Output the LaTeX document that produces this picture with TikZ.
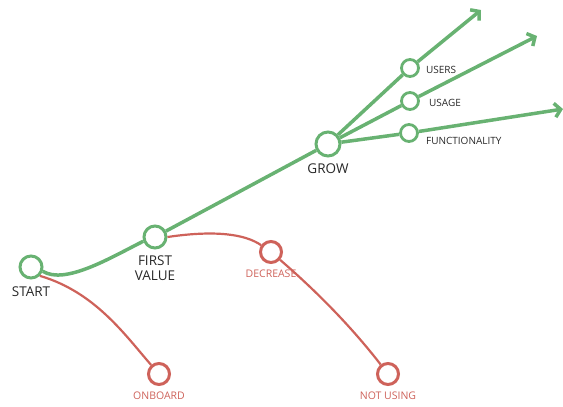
\documentclass[tikz,border=0pt]{standalone}
\usepackage{fontspec}
\setmainfont{Open Sans}
\usetikzlibrary{arrows.meta}
\definecolor{growgreen}{RGB}{104,178,114}
\definecolor{lossred}{RGB}{206,98,90}
\definecolor{labelgray}{RGB}{40,40,40}

\begin{document}
\begin{tikzpicture}[x=1pt,y=-1pt]
            \tikzstyle{stage} = [circle, draw=growgreen, line width=3pt, fill=white, minimum size=22pt, inner sep=0pt]
            \tikzstyle{substage} = [stage, minimum size=17pt, line width=2.8pt]
            \tikzstyle{drop} = [stage, draw=lossred, minimum size=21pt]
            \tikzstyle{biglabel} = [text=labelgray, font=\fontsize{13.5}{15.5}\selectfont, align=center, inner sep=1pt]
            \tikzstyle{smalllabel} = [text=labelgray, font=\fontsize{10}{12}\selectfont, inner sep=1pt]
            \tikzstyle{droplabel} = [text=lossred, font=\fontsize{10.5}{12}\selectfont, inner sep=1pt]
            \tikzstyle{path} = [growgreen, line width=3.5pt]
            \tikzstyle{loss} = [lossred, line width=2.2pt]
            \tikzstyle{branch} = [path, -{Straight Barb[length=6pt, width=14pt]}]
            \useasboundingbox (0,0) rectangle (563,407);
            % stages
            \node[stage, label={[biglabel, label distance=6pt]below:START}] (start) at (31,267) {};
            \node[stage, label={[biglabel, label distance=5pt]below:FIRST\\VALUE}] (first) at (155,237) {};
            \node[stage, minimum size=24pt, label={[biglabel, label distance=5pt]below:GROW}] (grow) at (328,144) {};
            \node[substage, label={[smalllabel, anchor=west, xshift=5pt, yshift=-2pt]right:USERS}] (users) at (410,68) {};
            \node[substage, label={[smalllabel, anchor=west, xshift=8pt, yshift=-2pt]right:USAGE}] (usage) at (410,101) {};
            \node[substage, label={[smalllabel, anchor=west, xshift=6pt, yshift=-8pt]right:FUNCTIONALITY}] (func) at (409,133) {};
            \node[drop, label={[droplabel, label distance=5pt]below:DECREASE}] (decrease) at (271,252) {};
            \node[drop, label={[droplabel, label distance=5pt]below:ONBOARD}] (onboard) at (159,374) {};
            \node[drop, label={[droplabel, label distance=5pt]below:NOT USING}] (notusing) at (388,374) {};
            \coordinate (usersTip) at (481,10);
            \coordinate (usageTip) at (537,36);
            \coordinate (funcTip) at (563,109);
            % losses
            \draw[loss] (start.-45) .. controls (95,292) and (125,335) .. (onboard);
            \draw[loss] (first.east) .. controls (215,230) and (245,234) .. (decrease);
            \draw[loss] (decrease) .. controls (315,290) and (350,325) .. (notusing);
            % growth
            \draw[path] (start.-20) .. controls (65,285) and (110,258) .. (first.200);
            \draw[path] (first) -- (grow);
            \draw[branch] (grow) -- (users) -- (usersTip);
            \draw[branch] (grow) -- (usage) -- (usageTip);
            \draw[branch] (grow) -- (func) -- (funcTip);
        \end{tikzpicture}
\end{document}
